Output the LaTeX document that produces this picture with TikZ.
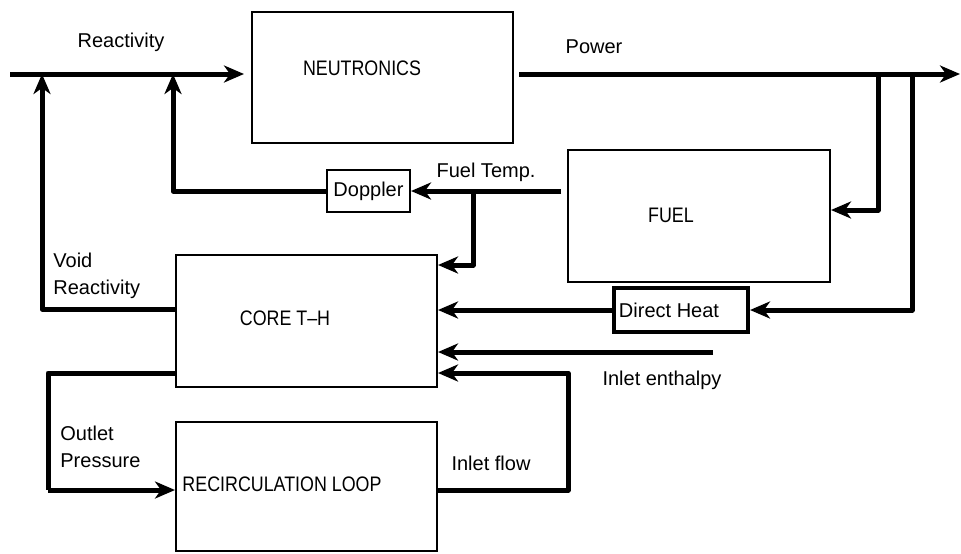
\documentclass[tikz,border=0pt]{standalone}
\usepackage{fontspec}
\setmainfont{Liberation Sans}
\newfontfamily\blockfont{Liberation Sans}[FakeStretch=0.85,Ligatures=TeX]
\usetikzlibrary{positioning,arrows.meta,calc}

\begin{document}
\begin{tikzpicture}[x=0.5pt,y=-0.5pt,
  box/.style={draw,line width=1pt,inner sep=0pt},
  flow/.style={line width=2.5pt,line join=round,-{Stealth[length=10pt,width=8.5pt,inset=3pt]}},
  wire/.style={line width=2.5pt,line join=round},
  lbl/.style={font=\fontsize{10}{13.5}\selectfont,inner sep=0pt},
  title/.style={font=\blockfont\fontsize{10.5}{12}\selectfont,inner sep=0pt}]
\useasboundingbox (0,0) rectangle (961,553);
% blocks (pixel coordinates of the scanned figure)
\node[box,minimum width=130.5pt,minimum height=65.5pt] (neut) at (382.5,77.5) {};
\node[box,minimum width=131pt,minimum height=66pt] (fuel) at (699,216) {};
\node[box,minimum width=130.5pt,minimum height=66pt] (core) at (306.5,321) {};
\node[box,minimum width=130.5pt,minimum height=64.5pt] (recirc) at (306.5,486.5) {};
\node[box,minimum width=41.5pt,minimum height=21pt,lbl] (doppler) at (368.5,191) {Doppler};
\node[box,line width=2pt,minimum width=67pt,minimum height=22pt,lbl] (direct) at (681,310) {Direct Heat\kern12pt};
\node[title] (tneut) at (362,68) {NEUTRONICS};
\node[title] (tfuel) at (671,215) {FUEL};
\node[title] (tcore) at (285,318) {CORE T--H};
\node[title] (trecirc) at (282,484) {RECIRCULATION LOOP};
% free ends and junctions
\coordinate (rin) at (10,74);
\coordinate (pout) at (960,74);
\coordinate (jdop) at (173,74);
\coordinate (jvoid) at (42,74);
\coordinate (jfuel) at (878,74);
\coordinate (jdir) at (912,74);
\coordinate (jtemp) at (473,191);
\coordinate (hin) at (713,352);
\coordinate (jflow) at (568,490);
\coordinate (jout) at (48,373);
% reactivity into neutronics, power out
\draw[flow,shorten >=3.5pt] (rin) -- (rin -| neut.west);
\draw[flow,shorten <=2.5pt] (neut.east |- rin) -- (pout);
\draw[flow] (jfuel) |- ([yshift=3pt]fuel.east);
\draw[flow] (jdir) |- (direct.east);
\draw[flow] (direct.west) -- (direct.west -| core.east);
% fuel temperature feedback
\draw[flow,shorten <=3pt] (doppler.east -| fuel.west) -- (doppler.east);
\draw[flow] (jtemp) |- (core.east |- 0,265);
\draw[flow] (doppler.west) -| (jdop);
\draw[flow] (core.west |- 0,309) -| (jvoid);
% coolant side
\draw[flow] (hin) -- (hin -| core.east);
\draw[wire] (core.west |- jout) -| (jout |- jflow);
\draw[flow] (jout |- jflow) -- (jflow -| recirc.west);
\draw[flow] (jflow -| recirc.east) -- (jflow) |- (core.east |- 0,373);
% signal names
\node[lbl] (lreact) at (121,42) {Reactivity};
\node[lbl] (lpower) at (594,47) {Power};
\node[lbl] (ltemp) at (486,172) {Fuel Temp.};
\node[lbl,align=left,anchor=north west] (lvoid) at (53,253) {Void\\Reactivity};
\node[lbl,align=left,anchor=north west] (lout) at (60,426) {Outlet\\Pressure};
\node[lbl] (lenth) at (662,380) {Inlet enthalpy};
\node[lbl] (lflow) at (491,463) {Inlet flow};
\end{tikzpicture}
\end{document}
